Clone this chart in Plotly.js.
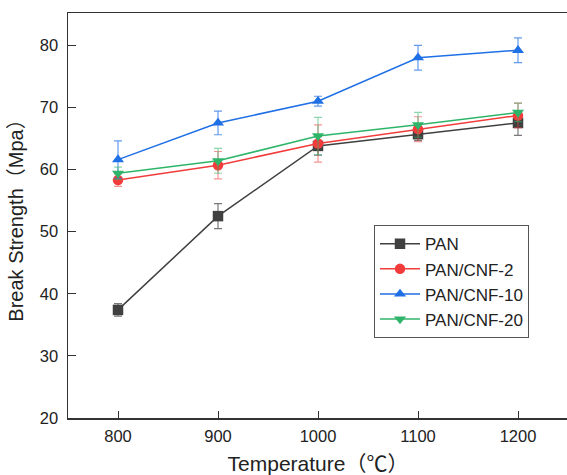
<!DOCTYPE html>
<html><head><meta charset="utf-8">
<script src="https://cdn.plot.ly/plotly-3.0.1.min.js"></script>
<style>html,body{margin:0;padding:0;overflow:hidden;background:#fff}</style>
</head><body>
<div id="chart"></div>
<script>
const temperature = [800, 900, 1000, 1100, 1200];
const seriesNames = ["PAN", "PAN/CNF-2", "PAN/CNF-10", "PAN/CNF-20"];
const panValues = [37.4, 52.5, 63.8, 65.7, 67.5];
const panErrors = [1.0, 2.0, 1.5, 1.0, 2.0];
const cnf2Values = [58.3, 60.7, 64.2, 66.5, 68.7];
const cnf2Errors = [1.0, 2.2, 3.0, 2.0, 2.0];
const cnf10Values = [61.6, 67.5, 71.0, 78.0, 79.2];
const cnf10Errors = [3.0, 1.9, 0.8, 2.0, 2.0];
const cnf20Values = [59.4, 61.4, 65.4, 67.2, 69.2];
const cnf20Errors = [1.0, 2.0, 3.0, 2.0, 1.5];

const colors = ["#404040", "#f23c3c", "#1f6fe5", "#2fb56a"];
const errColors = ["rgba(64,64,64,0.7)", "rgba(242,60,60,0.55)", "rgba(31,111,229,0.7)", "rgba(47,181,106,0.55)"];
const symbols = ["square", "circle", "triangle-up", "triangle-down"];
const values = [panValues, cnf2Values, cnf10Values, cnf20Values];
const errors = [panErrors, cnf2Errors, cnf10Errors, cnf20Errors];

const traces = seriesNames.map((name, i) => ({
  x: temperature, y: values[i], name: name, type: "scatter", mode: "lines+markers",
  line: {color: colors[i], width: 1.5},
  marker: {color: colors[i], symbol: symbols[i], size: 10.5},
  error_y: {type: "data", array: errors[i], visible: true, color: errColors[i], thickness: 1.2, width: 4}
}));

const layout = {
  width: 570, height: 475,
  margin: {l: 68, r: 2, t: 13, b: 57},
  paper_bgcolor: "#fff", plot_bgcolor: "#fff",
  font: {family: "Liberation Sans, Arial, sans-serif", color: "#222", size: 16.5},
  showlegend: true,
  legend: {x: 0.612, y: 0.476, xanchor: "left", yanchor: "top", bordercolor: "#555", borderwidth: 1,
    bgcolor: "#fff", font: {size: 17, color: "#222"}, tracegroupgap: 0, itemwidth: 40},
  xaxis: {
    range: [750, 1250], tickvals: temperature, ticks: "inside", ticklen: 7, tickcolor: "#333",
    showline: true, linecolor: "#333", linewidth: 1.5, mirror: true, showgrid: false, zeroline: false,
    tickfont: {size: 16.5}, ticklabelstandoff: 3,
    title: {text: "Temperature（℃）", font: {size: 21, family: "Liberation Sans, Noto Sans CJK SC, sans-serif"}, standoff: 14}
  },
  yaxis: {
    range: [20, 85.2], tickvals: [20, 30, 40, 50, 60, 70, 80], ticks: "inside", ticklen: 8, tickcolor: "#333",
    showline: true, linecolor: "#333", linewidth: 1.5, mirror: true, showgrid: false, zeroline: false,
    tickfont: {size: 16.5}, ticklabelstandoff: 5,
    title: {text: "Break Strength（Mpa）", font: {size: 20, family: "Liberation Sans, Noto Sans CJK SC, sans-serif"}, standoff: 11}
  }
};
Plotly.newPlot("chart", traces, layout, {displayModeBar: false, staticPlot: true});
</script>
</body></html>
